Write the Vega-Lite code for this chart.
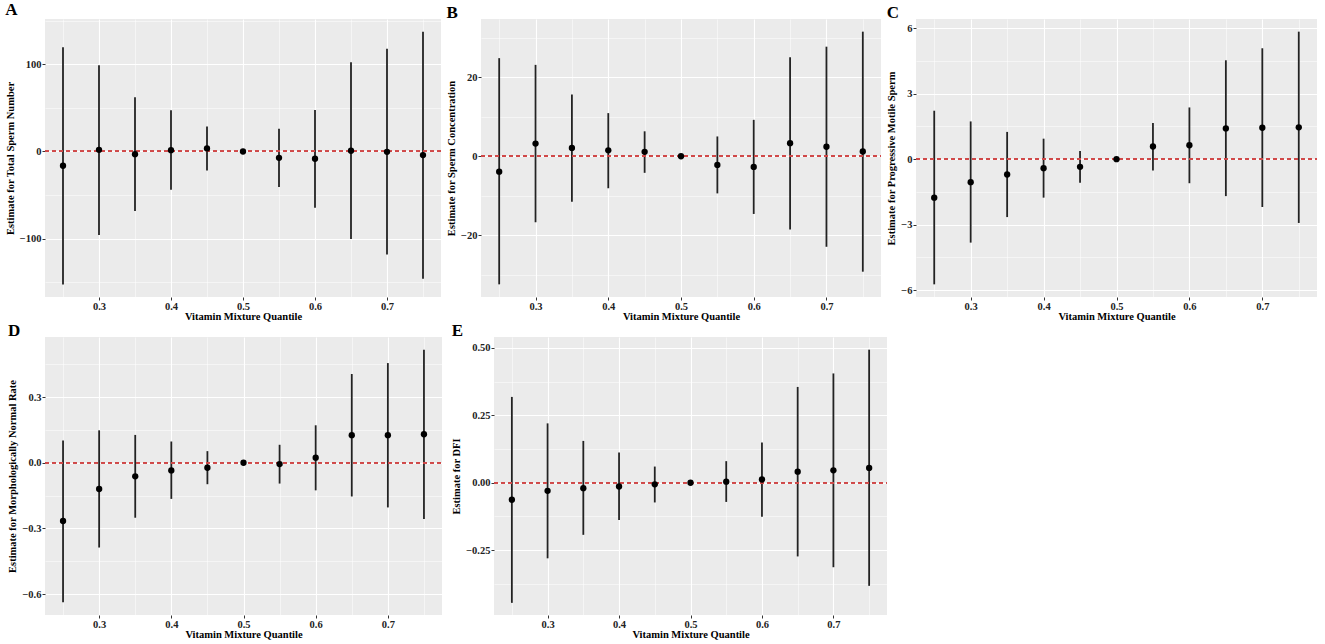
{
  "$schema": "https://vega.github.io/schema/vega-lite/v6.json",
  "background": "white",
  "padding": {"left": 5, "top": 0, "right": 2, "bottom": 0},
  "datasets": {
    "est": [
      {"panel": "A", "q": 0.25, "est": -16.4, "lo": -152.7, "hi": 119.5},
      {"panel": "A", "q": 0.30, "est": 1.9, "lo": -95.8, "hi": 98.9},
      {"panel": "A", "q": 0.35, "est": -3.1, "lo": -68.3, "hi": 62.2},
      {"panel": "A", "q": 0.40, "est": 1.5, "lo": -43.9, "hi": 47.3},
      {"panel": "A", "q": 0.45, "est": 3.4, "lo": -21.8, "hi": 28.6},
      {"panel": "A", "q": 0.50, "est": 0, "lo": 0, "hi": 0},
      {"panel": "A", "q": 0.55, "est": -7.3, "lo": -40.8, "hi": 26.0},
      {"panel": "A", "q": 0.60, "est": -8.4, "lo": -64.5, "hi": 47.7},
      {"panel": "A", "q": 0.65, "est": 0.8, "lo": -100.4, "hi": 102.3},
      {"panel": "A", "q": 0.70, "est": -0.4, "lo": -118.3, "hi": 117.9},
      {"panel": "A", "q": 0.75, "est": -4.2, "lo": -146.2, "hi": 137.4},
      {"panel": "B", "q": 0.25, "est": -3.9, "lo": -32.4, "hi": 24.8},
      {"panel": "B", "q": 0.30, "est": 3.2, "lo": -16.7, "hi": 23.1},
      {"panel": "B", "q": 0.35, "est": 2.1, "lo": -11.5, "hi": 15.6},
      {"panel": "B", "q": 0.40, "est": 1.5, "lo": -8.1, "hi": 10.9},
      {"panel": "B", "q": 0.45, "est": 1.1, "lo": -4.2, "hi": 6.3},
      {"panel": "B", "q": 0.50, "est": 0, "lo": 0, "hi": 0},
      {"panel": "B", "q": 0.55, "est": -2.2, "lo": -9.4, "hi": 5.0},
      {"panel": "B", "q": 0.60, "est": -2.7, "lo": -14.6, "hi": 9.2},
      {"panel": "B", "q": 0.65, "est": 3.3, "lo": -18.5, "hi": 25.0},
      {"panel": "B", "q": 0.70, "est": 2.4, "lo": -22.9, "hi": 27.7},
      {"panel": "B", "q": 0.75, "est": 1.2, "lo": -29.2, "hi": 31.5},
      {"panel": "C", "q": 0.25, "est": -1.76, "lo": -5.73, "hi": 2.22},
      {"panel": "C", "q": 0.30, "est": -1.05, "lo": -3.82, "hi": 1.73},
      {"panel": "C", "q": 0.35, "est": -0.70, "lo": -2.65, "hi": 1.25},
      {"panel": "C", "q": 0.40, "est": -0.41, "lo": -1.76, "hi": 0.94},
      {"panel": "C", "q": 0.45, "est": -0.35, "lo": -1.08, "hi": 0.38},
      {"panel": "C", "q": 0.50, "est": 0, "lo": 0, "hi": 0},
      {"panel": "C", "q": 0.55, "est": 0.58, "lo": -0.52, "hi": 1.66},
      {"panel": "C", "q": 0.60, "est": 0.64, "lo": -1.10, "hi": 2.37},
      {"panel": "C", "q": 0.65, "est": 1.41, "lo": -1.69, "hi": 4.53},
      {"panel": "C", "q": 0.70, "est": 1.44, "lo": -2.19, "hi": 5.08},
      {"panel": "C", "q": 0.75, "est": 1.46, "lo": -2.92, "hi": 5.84},
      {"panel": "D", "q": 0.25, "est": -0.266, "lo": -0.637, "hi": 0.101},
      {"panel": "D", "q": 0.30, "est": -0.120, "lo": -0.387, "hi": 0.148},
      {"panel": "D", "q": 0.35, "est": -0.062, "lo": -0.251, "hi": 0.127},
      {"panel": "D", "q": 0.40, "est": -0.035, "lo": -0.165, "hi": 0.097},
      {"panel": "D", "q": 0.45, "est": -0.023, "lo": -0.098, "hi": 0.053},
      {"panel": "D", "q": 0.50, "est": 0, "lo": 0, "hi": 0},
      {"panel": "D", "q": 0.55, "est": -0.006, "lo": -0.095, "hi": 0.082},
      {"panel": "D", "q": 0.60, "est": 0.023, "lo": -0.126, "hi": 0.171},
      {"panel": "D", "q": 0.65, "est": 0.126, "lo": -0.154, "hi": 0.405},
      {"panel": "D", "q": 0.70, "est": 0.126, "lo": -0.204, "hi": 0.455},
      {"panel": "D", "q": 0.75, "est": 0.130, "lo": -0.257, "hi": 0.516},
      {"panel": "E", "q": 0.25, "est": -0.063, "lo": -0.445, "hi": 0.318},
      {"panel": "E", "q": 0.30, "est": -0.030, "lo": -0.280, "hi": 0.220},
      {"panel": "E", "q": 0.35, "est": -0.020, "lo": -0.193, "hi": 0.155},
      {"panel": "E", "q": 0.40, "est": -0.014, "lo": -0.138, "hi": 0.112},
      {"panel": "E", "q": 0.45, "est": -0.006, "lo": -0.073, "hi": 0.060},
      {"panel": "E", "q": 0.50, "est": 0, "lo": 0, "hi": 0},
      {"panel": "E", "q": 0.55, "est": 0.004, "lo": -0.071, "hi": 0.080},
      {"panel": "E", "q": 0.60, "est": 0.012, "lo": -0.126, "hi": 0.149},
      {"panel": "E", "q": 0.65, "est": 0.041, "lo": -0.273, "hi": 0.355},
      {"panel": "E", "q": 0.70, "est": 0.046, "lo": -0.313, "hi": 0.405},
      {"panel": "E", "q": 0.75, "est": 0.055, "lo": -0.382, "hi": 0.493}
    ]
  },
  "spacing": 0,
  "vconcat": [
    {
      "spacing": 4,
      "hconcat": [
        {
          "title": "A",
          "width": 396,
          "height": 278,
          "data": {"name": "est"},
          "transform": [{"filter": "datum.panel === 'A'"}],
          "encoding": {
            "x": {
              "field": "q", "type": "quantitative",
              "title": "Vitamin Mixture Quantile",
              "scale": {"domain": [0.225, 0.775], "nice": false, "zero": false},
              "axis": {
                "values": [0.25, 0.3, 0.35, 0.4, 0.45, 0.5, 0.55, 0.6, 0.65, 0.7, 0.75],
                "format": ".1f",
                "labelExpr": "round(datum.value * 100) % 10 !== 0 ? '' : datum.label",
                "gridWidth": {"condition": {"test": "round(datum.value * 100) % 10 !== 0", "value": 0.5}, "value": 1.1},
                "tickOpacity": {"condition": {"test": "round(datum.value * 100) % 10 !== 0", "value": 0}, "value": 1}
              }
            }
          },
          "layer": [
            {
              "mark": {"type": "rule", "color": "#222222", "strokeWidth": 1.8},
              "encoding": {
                "y": {
                  "field": "lo", "type": "quantitative",
                  "title": "Estimate for Total Sperm Number",
                  "scale": {"domain": [-167, 152], "nice": false, "zero": false},
                  "axis": {
                    "values": [-150, -100, -50, 0, 50, 100, 150],
                    "labelExpr": "datum.value % 100 !== 0 ? '' : datum.label",
                    "gridWidth": {"condition": {"test": "datum.value % 100 !== 0", "value": 0.5}, "value": 1.1},
                    "tickOpacity": {"condition": {"test": "datum.value % 100 !== 0", "value": 0}, "value": 1}
                  }
                },
                "y2": {"field": "hi"}
              }
            },
            {"mark": {"type": "rule", "color": "#D04848", "strokeDash": [4, 3], "strokeWidth": 1.2}, "encoding": {"y": {"datum": 0}, "x": {"datum": 0.225}, "x2": {"datum": 0.775}}},
            {"mark": {"type": "point", "filled": true, "color": "black", "opacity": 1, "size": 40}, "encoding": {"y": {"field": "est", "type": "quantitative"}}}
          ]
        },
        {
          "title": "B",
          "width": 400,
          "height": 278,
          "data": {"name": "est"},
          "transform": [{"filter": "datum.panel === 'B'"}],
          "encoding": {
            "x": {
              "field": "q", "type": "quantitative",
              "title": "Vitamin Mixture Quantile",
              "scale": {"domain": [0.225, 0.775], "nice": false, "zero": false},
              "axis": {
                "values": [0.25, 0.3, 0.35, 0.4, 0.45, 0.5, 0.55, 0.6, 0.65, 0.7, 0.75],
                "format": ".1f",
                "labelExpr": "round(datum.value * 100) % 10 !== 0 ? '' : datum.label",
                "gridWidth": {"condition": {"test": "round(datum.value * 100) % 10 !== 0", "value": 0.5}, "value": 1.1},
                "tickOpacity": {"condition": {"test": "round(datum.value * 100) % 10 !== 0", "value": 0}, "value": 1}
              }
            }
          },
          "layer": [
            {
              "mark": {"type": "rule", "color": "#222222", "strokeWidth": 1.8},
              "encoding": {
                "y": {
                  "field": "lo", "type": "quantitative",
                  "title": "Estimate for Sperm Concentration",
                  "scale": {"domain": [-35.6, 34.7], "nice": false, "zero": false},
                  "axis": {
                    "values": [-30, -20, -10, 0, 10, 20, 30],
                    "labelExpr": "datum.value % 20 !== 0 ? '' : datum.label",
                    "gridWidth": {"condition": {"test": "datum.value % 20 !== 0", "value": 0.5}, "value": 1.1},
                    "tickOpacity": {"condition": {"test": "datum.value % 20 !== 0", "value": 0}, "value": 1}
                  }
                },
                "y2": {"field": "hi"}
              }
            },
            {"mark": {"type": "rule", "color": "#D04848", "strokeDash": [4, 3], "strokeWidth": 1.2}, "encoding": {"y": {"datum": 0}, "x": {"datum": 0.225}, "x2": {"datum": 0.775}}},
            {"mark": {"type": "point", "filled": true, "color": "black", "opacity": 1, "size": 40}, "encoding": {"y": {"field": "est", "type": "quantitative"}}}
          ]
        },
        {
          "title": "C",
          "width": 401,
          "height": 278,
          "data": {"name": "est"},
          "transform": [{"filter": "datum.panel === 'C'"}],
          "encoding": {
            "x": {
              "field": "q", "type": "quantitative",
              "title": "Vitamin Mixture Quantile",
              "scale": {"domain": [0.225, 0.775], "nice": false, "zero": false},
              "axis": {
                "values": [0.25, 0.3, 0.35, 0.4, 0.45, 0.5, 0.55, 0.6, 0.65, 0.7, 0.75],
                "format": ".1f",
                "labelExpr": "round(datum.value * 100) % 10 !== 0 ? '' : datum.label",
                "gridWidth": {"condition": {"test": "round(datum.value * 100) % 10 !== 0", "value": 0.5}, "value": 1.1},
                "tickOpacity": {"condition": {"test": "round(datum.value * 100) % 10 !== 0", "value": 0}, "value": 1}
              }
            }
          },
          "layer": [
            {
              "mark": {"type": "rule", "color": "#222222", "strokeWidth": 1.8},
              "encoding": {
                "y": {
                  "field": "lo", "type": "quantitative",
                  "title": "Estimate for Progressive Motile Sperm",
                  "scale": {"domain": [-6.31, 6.42], "nice": false, "zero": false},
                  "axis": {
                    "values": [-6, -4.5, -3, -1.5, 0, 1.5, 3, 4.5, 6],
                    "format": "d",
                    "labelExpr": "round(datum.value * 10) % 30 !== 0 ? '' : datum.label",
                    "gridWidth": {"condition": {"test": "round(datum.value * 10) % 30 !== 0", "value": 0.5}, "value": 1.1},
                    "tickOpacity": {"condition": {"test": "round(datum.value * 10) % 30 !== 0", "value": 0}, "value": 1}
                  }
                },
                "y2": {"field": "hi"}
              }
            },
            {"mark": {"type": "rule", "color": "#D04848", "strokeDash": [4, 3], "strokeWidth": 1.2}, "encoding": {"y": {"datum": 0}, "x": {"datum": 0.225}, "x2": {"datum": 0.775}}},
            {"mark": {"type": "point", "filled": true, "color": "black", "opacity": 1, "size": 40}, "encoding": {"y": {"field": "est", "type": "quantitative"}}}
          ]
        }
      ]
    },
    {
      "spacing": 8,
      "hconcat": [
        {
          "title": "D",
          "width": 397,
          "height": 278,
          "data": {"name": "est"},
          "transform": [{"filter": "datum.panel === 'D'"}],
          "encoding": {
            "x": {
              "field": "q", "type": "quantitative",
              "title": "Vitamin Mixture Quantile",
              "scale": {"domain": [0.225, 0.775], "nice": false, "zero": false},
              "axis": {
                "values": [0.25, 0.3, 0.35, 0.4, 0.45, 0.5, 0.55, 0.6, 0.65, 0.7, 0.75],
                "format": ".1f",
                "labelExpr": "round(datum.value * 100) % 10 !== 0 ? '' : datum.label",
                "gridWidth": {"condition": {"test": "round(datum.value * 100) % 10 !== 0", "value": 0.5}, "value": 1.1},
                "tickOpacity": {"condition": {"test": "round(datum.value * 100) % 10 !== 0", "value": 0}, "value": 1}
              }
            }
          },
          "layer": [
            {
              "mark": {"type": "rule", "color": "#222222", "strokeWidth": 1.8},
              "encoding": {
                "y": {
                  "field": "lo", "type": "quantitative",
                  "title": "Estimate for Morphologically Normal Rate",
                  "scale": {"domain": [-0.695, 0.574], "nice": false, "zero": false},
                  "axis": {
                    "values": [-0.6, -0.45, -0.3, -0.15, 0, 0.15, 0.3, 0.45],
                    "format": ".1f",
                    "labelExpr": "round(datum.value * 100) % 30 !== 0 ? '' : datum.label",
                    "gridWidth": {"condition": {"test": "round(datum.value * 100) % 30 !== 0", "value": 0.5}, "value": 1.1},
                    "tickOpacity": {"condition": {"test": "round(datum.value * 100) % 30 !== 0", "value": 0}, "value": 1}
                  }
                },
                "y2": {"field": "hi"}
              }
            },
            {"mark": {"type": "rule", "color": "#D04848", "strokeDash": [4, 3], "strokeWidth": 1.2}, "encoding": {"y": {"datum": 0}, "x": {"datum": 0.225}, "x2": {"datum": 0.775}}},
            {"mark": {"type": "point", "filled": true, "color": "black", "opacity": 1, "size": 40}, "encoding": {"y": {"field": "est", "type": "quantitative"}}}
          ]
        },
        {
          "title": "E",
          "width": 393,
          "height": 278,
          "data": {"name": "est"},
          "transform": [{"filter": "datum.panel === 'E'"}],
          "encoding": {
            "x": {
              "field": "q", "type": "quantitative",
              "title": "Vitamin Mixture Quantile",
              "scale": {"domain": [0.225, 0.775], "nice": false, "zero": false},
              "axis": {
                "values": [0.25, 0.3, 0.35, 0.4, 0.45, 0.5, 0.55, 0.6, 0.65, 0.7, 0.75],
                "format": ".1f",
                "labelExpr": "round(datum.value * 100) % 10 !== 0 ? '' : datum.label",
                "gridWidth": {"condition": {"test": "round(datum.value * 100) % 10 !== 0", "value": 0.5}, "value": 1.1},
                "tickOpacity": {"condition": {"test": "round(datum.value * 100) % 10 !== 0", "value": 0}, "value": 1}
              }
            }
          },
          "layer": [
            {
              "mark": {"type": "rule", "color": "#222222", "strokeWidth": 1.8},
              "encoding": {
                "y": {
                  "field": "lo", "type": "quantitative",
                  "title": "Estimate for DFI",
                  "scale": {"domain": [-0.49, 0.54], "nice": false, "zero": false},
                  "axis": {
                    "values": [-0.375, -0.25, -0.125, 0, 0.125, 0.25, 0.375, 0.5],
                    "format": ".2f",
                    "labelExpr": "round(datum.value * 1000) % 250 !== 0 ? '' : datum.label",
                    "gridWidth": {"condition": {"test": "round(datum.value * 1000) % 250 !== 0", "value": 0.5}, "value": 1.1},
                    "tickOpacity": {"condition": {"test": "round(datum.value * 1000) % 250 !== 0", "value": 0}, "value": 1}
                  }
                },
                "y2": {"field": "hi"}
              }
            },
            {"mark": {"type": "rule", "color": "#D04848", "strokeDash": [4, 3], "strokeWidth": 1.2}, "encoding": {"y": {"datum": 0}, "x": {"datum": 0.225}, "x2": {"datum": 0.775}}},
            {"mark": {"type": "point", "filled": true, "color": "black", "opacity": 1, "size": 40}, "encoding": {"y": {"field": "est", "type": "quantitative"}}}
          ]
        }
      ]
    }
  ],
  "config": {
    "font": "Liberation Serif",
    "view": {"fill": "#EBEBEB", "stroke": null},
    "title": {
      "anchor": "start",
      "frame": "bounds",
      "font": "Liberation Serif",
      "fontSize": 17,
      "fontWeight": "bold",
      "color": "black",
      "offset": -3
    },
    "axis": {
      "grid": true,
      "gridColor": "white",
      "domain": false,
      "ticks": true,
      "tickCount": 40,
      "tickColor": "#333333",
      "tickSize": 3,
      "tickWidth": 1,
      "labelFont": "Liberation Serif",
      "labelFontSize": 10.5,
      "labelFontWeight": "bold",
      "labelColor": "#222222",
      "labelPadding": 1,
      "labelOverlap": false,
      "titleFont": "Liberation Serif",
      "titleFontSize": 10.5,
      "titleFontWeight": "bold",
      "titleColor": "black"
    },
    "axisX": {"titlePadding": 0},
    "axisY": {"titlePadding": 4}
  }
}
